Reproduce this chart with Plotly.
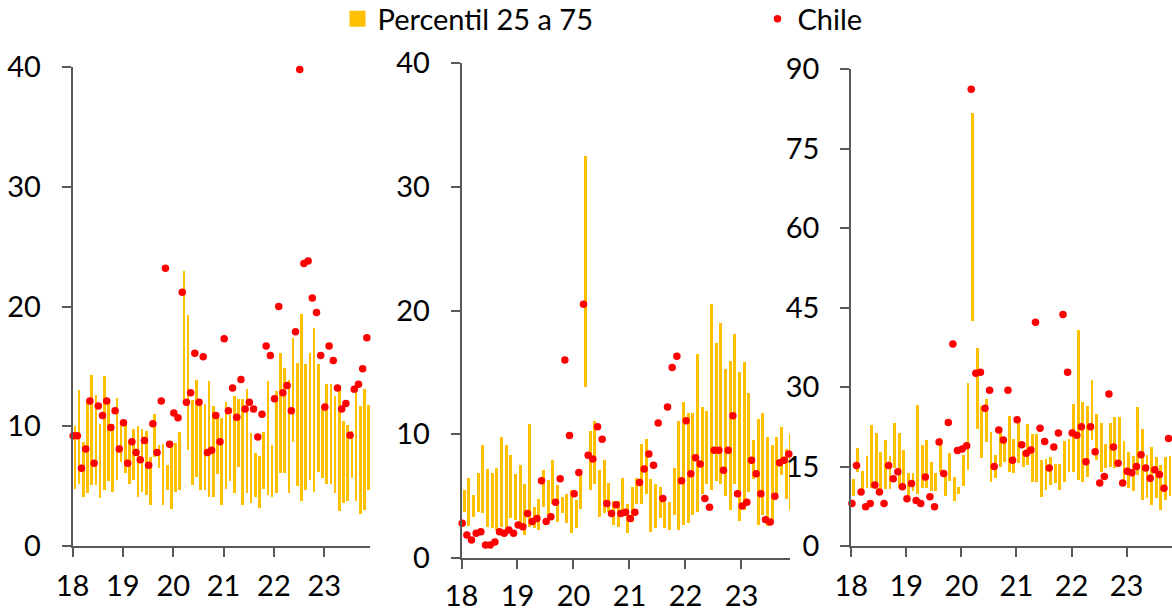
import plotly.graph_objects as go

# ---------------- data (monthly, Jan-2018 .. Nov-2023) ----------------
tick_months = [0, 12, 24, 36, 48, 60]
tick_text = ["18", "19", "20", "21", "22", "23"]

# Panel 1
p1_high = [10.0, 13.05, 8.7, 12.1, 14.3, 12.6, 10.2, 14.2, 12.1, 10.2, 12.4, 10.3, 10.2, 8.75, 9.75,
           10.0, 9.75, 9.6, 7.4, 11.0, 8.4, 8.5, 6.75, 8.7, 8.6, 9.5, 23.0, 19.25, 12.2, 13.9,
           11.9, 11.9, 13.75, 11.7, 10.8, 10.7, 12.0, 10.95, 12.5, 12.3, 12.3, 13.1, 9.4, 7.8, 7.55,
           9.5, 13.8, 8.4, 12.95, 16.1, 14.9, 13.9, 17.4, 15.3, 19.4, 15.2, 16.1, 18.2, 15.2, 11.7,
           13.5, 13.5, 12.5, 13.1, 10.45, 10.1, 9.6, 12.95, 11.7, 13.1, 11.8]
p1_low = [4.8, 5.2, 4.1, 4.4, 5.1, 5.1, 4.0, 4.7, 5.4, 4.5, 5.5, 7.0, 6.1, 5.2, 5.5,
          4.1, 4.5, 4.25, 3.4, 7.4, 6.5, 3.4, 4.7, 3.1, 4.5, 4.7, 12.2, 8.0, 5.1, 5.8,
          4.7, 4.7, 4.1, 4.1, 6.0, 3.4, 4.8, 5.4, 4.4, 6.6, 3.4, 4.4, 3.6, 4.1, 3.15,
          4.8, 4.3, 4.1, 4.4, 6.1, 6.1, 4.4, 8.7, 5.0, 3.8, 4.7, 5.5, 4.5, 6.2, 5.65,
          5.2, 5.2, 4.4, 2.9, 3.6, 3.8, 5.65, 3.8, 2.7, 3.0, 4.7]
p1_chile = [9.2, 9.2, 6.5, 8.1, 12.1, 6.9, 11.7, 10.9, 12.1, 9.9, 11.3, 8.1, 10.3, 6.9, 8.7,
            7.8, 7.2, 8.8, 6.75, 10.2, 7.8, 12.1, 23.2, 8.5, 11.1, 10.7, 21.2, 12.0, 12.8, 16.1,
            12.0, 15.8, 7.8, 8.0, 10.9, 8.7, 17.3, 11.3, 13.2, 10.75, 13.9, 11.45, 12.0, 11.45, 9.1,
            11.0, 16.7, 15.9, 12.3, 20.0, 12.8, 13.4, 11.3, 17.9, 39.8, 23.6, 23.8, 20.7, 19.5, 15.9,
            11.6, 16.7, 15.5, 13.2, 11.45, 11.9, 9.25, 13.1, 13.5, 14.8, 17.4]

# Panel 2
p2_high = [5.5, 6.5, 5.07, 6.9, 9.1, 7.2, 6.9, 7.3, 9.75, 9.1, 8.3, 6.8, 7.5, 6.0, 10.8,
           4.15, 4.8, 7.1, 6.3, 7.9, 5.9, 4.9, 5.2, 5.5, 4.7, 6.8, 32.5, 10.3, 11.1, 7.1,
           7.9, 6.1, 4.6, 4.6, 6.5, 4.4, 5.7, 6.5, 9.2, 9.6, 6.4, 6.0, 5.7, 4.5, 4.5,
           7.3, 11.1, 12.6, 11.75, 11.75, 16.5, 12.2, 11.9, 20.5, 17.4, 19.0, 15.3, 15.9, 18.1, 15.0,
           15.8, 13.3, 9.5, 11.2, 11.75, 9.75, 9.1, 9.75, 10.6, 8.8, 10.0]
p2_low = [3.75, 2.6, 3.3, 3.75, 3.6, 2.5, 2.4, 2.3, 2.5, 2.26, 3.2, 3.07, 2.4, 1.86, 2.5,
          2.4, 2.26, 4.1, 3.34, 4.4, 2.9, 3.6, 2.8, 2.0, 2.4, 4.0, 13.8, 5.5, 6.0, 3.3,
          3.6, 3.75, 2.7, 2.5, 3.6, 2.0, 2.9, 4.4, 4.4, 5.2, 2.1, 2.4, 3.2, 2.4, 2.26,
          3.5, 2.3, 2.7, 2.8, 3.5, 3.75, 5.2, 6.0, 5.5, 6.2, 6.0, 5.0, 3.9, 6.0, 3.0,
          3.9, 5.3, 6.4, 2.7, 3.5, 2.55, 3.1, 4.8, 6.7, 4.8, 3.9]
p2_chile = [2.8, 1.86, 1.46, 2.0, 2.13, 1.05, 1.05, 1.3, 2.13, 2.0, 2.26, 2.0, 2.67, 2.53, 3.6,
            2.94, 3.2, 6.25, 2.94, 3.34, 4.5, 6.4, 16.0, 9.9, 5.2, 6.9, 20.5, 8.3, 8.0, 10.6,
            9.6, 4.4, 3.6, 4.3, 3.6, 3.7, 3.2, 3.7, 6.1, 7.2, 8.4, 7.5, 10.9, 4.8, 12.2,
            15.4, 16.3, 6.25, 11.1, 6.8, 8.1, 7.6, 4.8, 4.1, 8.7, 8.7, 7.1, 8.7, 11.5, 5.2,
            4.2, 4.5, 7.9, 6.8, 5.2, 3.1, 2.9, 5.0, 7.7, 7.9, 8.4]

# Panel 3
p3_high = [12.6, 18.5, 14.2, 17.0, 22.8, 21.3, 17.8, 20.0, 16.9, 23.2, 21.3, 18.1, 13.7, 13.7, 26.6,
           19.1, 20.0, 15.9, 13.7, 20.4, 13.7, 17.5, 13.1, 11.2, 17.2, 30.7, 81.7, 37.4, 26.4, 27.8,
           21.6, 17.2, 22.0, 20.0, 24.6, 20.2, 23.6, 18.0, 23.0, 21.1, 21.1, 16.2, 16.4, 16.7, 15.5,
           15.5, 19.9, 20.2, 26.8, 40.8, 27.1, 26.5, 31.4, 24.9, 23.3, 19.2, 23.3, 24.3, 24.3, 19.9,
           17.7, 16.9, 26.2, 22.1, 17.2, 18.6, 16.7, 15.2, 16.7, 17.0, 15.5]
p3_low = [9.45, 13.9, 10.7, 11.0, 11.0, 10.7, 10.7, 10.7, 10.7, 14.8, 11.0, 11.3, 9.1, 10.4, 9.8,
          11.0, 11.0, 10.4, 10.4, 13.9, 9.45, 12.3, 8.5, 9.8, 11.3, 14.4, 42.4, 22.0, 16.6, 19.7,
          12.0, 12.8, 15.0, 15.9, 14.0, 13.7, 15.6, 15.0, 15.3, 12.1, 12.1, 9.3, 10.6, 11.5, 11.8,
          10.6, 12.1, 14.0, 14.0, 12.5, 12.1, 13.1, 20.0, 16.2, 14.0, 14.7, 15.0, 14.7, 15.6, 12.5,
          10.9, 10.3, 13.4, 8.7, 9.0, 7.7, 9.0, 6.8, 8.7, 9.5, 8.5]
p3_chile = [8.0, 15.2, 10.2, 7.4, 8.0, 11.5, 10.2, 8.0, 15.2, 12.7, 14.0, 11.2, 8.9, 11.8, 8.6,
            8.0, 13.0, 9.3, 7.4, 19.6, 13.7, 23.3, 38.1, 18.0, 18.3, 18.9, 86.2, 32.6, 32.8, 26.0,
            29.4, 15.0, 21.9, 20.0, 29.4, 16.2, 23.8, 19.1, 17.5, 18.1, 42.2, 22.2, 19.7, 14.7, 18.7,
            21.3, 43.7, 32.8, 21.3, 20.9, 22.5, 15.9, 22.5, 17.8, 11.9, 13.1, 28.7, 18.7, 15.6, 11.9,
            14.1, 13.8, 15.0, 17.2, 14.7, 12.8, 14.4, 13.5, 10.9, 20.3, 15.3]

y_ticks_12 = [0, 10, 20, 30, 40]
y_ticks_3 = [0, 15, 30, 45, 60, 75, 90]

BAR_COLOR = "#FFC000"
DOT_COLOR = "#FF0000"
FONT = "Lato"
FSIZE = 29

fig = go.Figure()

panels = [
    (p1_low, p1_high, p1_chile, "x", "y"),
    (p2_low, p2_high, p2_chile, "x2", "y2"),
    (p3_low, p3_high, p3_chile, "x3", "y3"),
]
for low, high, chile, xa, ya in panels:
    n = len(high)
    xb = [i + 0.45 for i in range(n)]
    xd = [i + 0.15 for i in range(n)]
    fig.add_trace(go.Bar(
        x=xb, y=[h - l for h, l in zip(high, low)], base=low,
        width=0.62, marker=dict(color=BAR_COLOR, line=dict(width=0)),
        xaxis=xa, yaxis=ya, showlegend=False, legendgroup="p",
        hoverinfo="skip"))
    fig.add_trace(go.Scatter(
        x=xd, y=chile, mode="markers",
        marker=dict(color=DOT_COLOR, size=7.5, line=dict(width=0)),
        xaxis=xa, yaxis=ya, showlegend=(xa == "x"), name="Chile",
        legendgroup="c", cliponaxis=False, legendrank=2))

# legend entry for the percentile bars
fig.add_trace(go.Scatter(
    x=[None], y=[None], mode="markers", name="Percentil 25 a 75",
    marker=dict(symbol="square", color=BAR_COLOR, size=16),
    legendgroup="p", showlegend=True, legendrank=1))

W, H = 1172, 611

def xdom(a, b):
    return [a / W, b / W]

def ydom(bottom_px, top_px):
    return [(H - bottom_px) / H, (H - top_px) / H]

axis_common = dict(
    showline=True, linecolor="#595959", linewidth=1.5,
    ticks="outside", tickcolor="#595959", tickwidth=1.5, ticklen=9,
    showgrid=False, zeroline=False, automargin=False,
    tickfont=dict(family=FONT, size=FSIZE, color="#000000"),
)

fig.update_layout(
    width=W, height=H,
    margin=dict(l=0, r=0, t=0, b=0, autoexpand=False),
    paper_bgcolor="white", plot_bgcolor="white",
    barmode="overlay", bargap=0,
    font=dict(family=FONT, size=FSIZE, color="#000000"),
    showlegend=True,
    legend=dict(orientation="h", x=337.5 / W, xanchor="left", y=(H - 19) / H, yanchor="middle",
                font=dict(family=FONT, size=FSIZE, color="#000000"),
                entrywidth=375, entrywidthmode="pixels",
                bgcolor="rgba(0,0,0,0)", borderwidth=0, traceorder="normal"),
    xaxis=dict(domain=xdom(72.5, 370), range=[0, 70.9], tickvals=tick_months,
               ticktext=tick_text, anchor="y", ticklabelstandoff=4, **axis_common),
    yaxis=dict(domain=ydom(546, 67), range=[0, 40], tickvals=y_ticks_12,
               anchor="x", ticklabelstandoff=15, **axis_common),
    xaxis2=dict(domain=xdom(461.5, 790), range=[0, 70.4], tickvals=tick_months,
                ticktext=tick_text, anchor="y2", ticklabelstandoff=2, **axis_common),
    yaxis2=dict(domain=ydom(558, 63), range=[0, 40], tickvals=y_ticks_12,
                anchor="x2", ticklabelstandoff=15, **axis_common),
    xaxis3=dict(domain=xdom(851, 1172), range=[-0.05, 69.9], tickvals=tick_months,
                ticktext=tick_text, anchor="y3", ticklabelstandoff=4, **axis_common),
    yaxis3=dict(domain=ydom(546, 69), range=[0, 90], tickvals=y_ticks_3,
                anchor="x3", ticklabelstandoff=15, **axis_common),
)

fig.write_html("out.html",
               config={"displayModeBar": False},
               post_script="document.body.style.margin='0';document.body.style.overflow='hidden';")
